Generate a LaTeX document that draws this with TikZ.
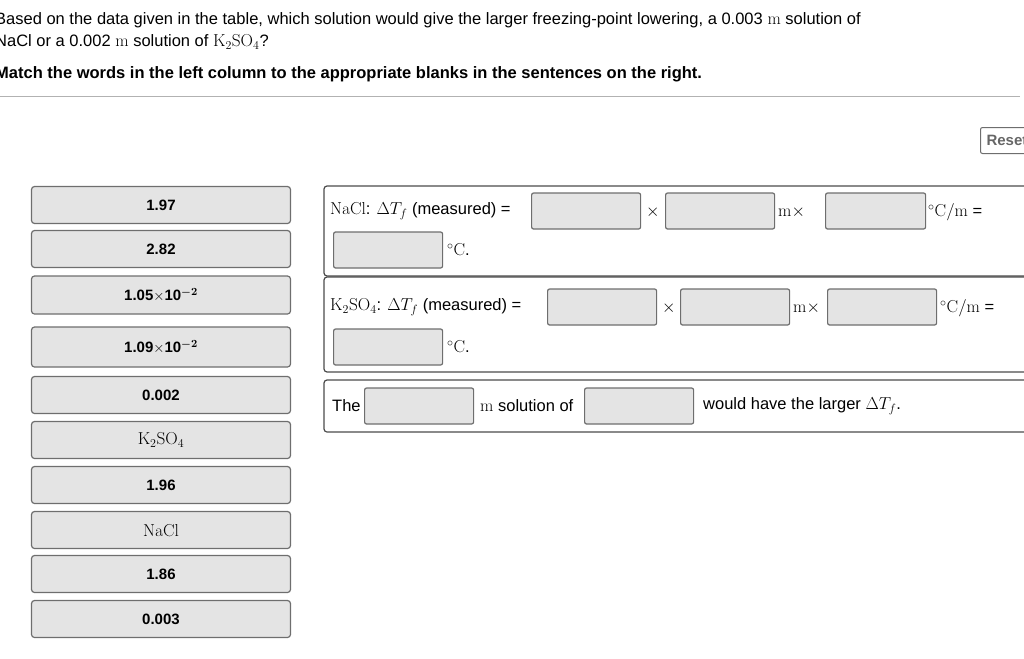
\documentclass[tikz,border=0pt]{standalone}
\usepackage[no-math]{fontspec}
\setmainfont{Liberation Sans}
\usepackage{amsmath}
\usetikzlibrary{positioning}
\definecolor{tilegray}{RGB}{228,228,228}
\definecolor{edgegray}{RGB}{110,110,110}
\tikzset{
  tile/.style={rectangle, rounded corners=3pt, draw=edgegray, line width=1.2pt, fill=tilegray, minimum width=259pt, minimum height=37pt, font=\fontsize{15}{17}\selectfont\bfseries},
  blank/.style={rectangle, rounded corners=2pt, draw=edgegray, line width=1.2pt, fill=tilegray, minimum width=109pt, minimum height=36pt, anchor=west},
  panel/.style={rounded corners=3pt, draw=black!70, line width=1.2pt},
  txt/.style={anchor=west, inner sep=0pt, font=\fontsize{16.5}{19}\selectfont}
}
\newcommand{\mm}{\mathrm{m}}
\begin{document}
\begin{tikzpicture}[x=1pt, y=-1pt]
\useasboundingbox (0,0) rectangle (1024,658);
\clip (0,0) rectangle (1024,658);

% question
\node (q1) [txt] at (-5,20) {Based on the data given in the table, which solution would give the larger freezing-point lowering, a 0.003 $\mm$ solution of};
\node (q2) [txt] at (-5,42) {NaCl or a 0.002 $\mm$ solution of $\mathrm{K_2SO_4}$?};
\node (q3) [txt, font=\fontsize{16.5}{19}\selectfont\bfseries] at (-5,74) {Match the words in the left column to the appropriate blanks in the sentences on the right.};
\draw [black!30, line width=1pt] (0,97) -- (1020,97);

% reset button
\draw (980,127) node (reset) [rectangle, rounded corners=2pt, draw=edgegray, line width=1pt, anchor=north west, minimum width=64pt, minimum height=26pt, font=\fontsize{15}{17}\selectfont\bfseries, text=black!60, align=left, text width=54pt, inner xsep=6pt, inner ysep=4pt] {Reset};

% word tiles
\node (t1)  [tile] at (161,205) {1.97};
\node (t2)  [tile] at (161,249) {2.82};
\node (t3)  [tile, minimum height=38pt] at (161,295) {1.05$\times$10$^{\boldsymbol{-}\mathbf{2}}$};
\node (t4)  [tile, minimum height=40pt] at (161,347) {1.09$\times$10$^{\boldsymbol{-}\mathbf{2}}$};
\node (t5)  [tile] at (161,395) {0.002};
\node (t6)  [tile, font=\fontsize{17}{19}\selectfont] at (161,440) {$\mathrm{K_2SO_4}$};
\node (t7)  [tile] at (161,485) {1.96};
\node (t8)  [tile, font=\fontsize{17}{19}\selectfont] at (161,530) {$\mathrm{NaCl}$};
\node (t9)  [tile] at (161,574) {1.86};
\node (t10) [tile] at (161,619) {0.003};

% sentence panels
\draw [panel] (324,186) rectangle (1040,276);
\draw [panel] (324,277) rectangle (1040,372);
\draw [panel] (324,380) rectangle (1040,432);

% NaCl row
\node (a0) [txt] at (330,211) {$\mathrm{NaCl}$: $\Delta T_f$ (measured) =};
\node (a1) [blank] at (531,211) {};
\node (ax) [txt] at (646,212) {$\times$};
\node (a2) [blank] at (665,211) {};
\node (am) [txt] at (778,212) {$\mm\times$};
\node (a3) [blank, minimum width=100pt] at (825,211) {};
\node (au) [txt] at (928,212) {$^\circ\mathrm{C}/\mm$ =};
\node (a4) [blank] at (333,250) {};
\node (ac) [txt] at (447,250) {$^\circ\mathrm{C}$.};

% K2SO4 row
\node (b0) [txt] at (330,307) {$\mathrm{K_2SO_4}$: $\Delta T_f$ (measured) =};
\node (b1) [blank] at (547,307) {};
\node (bx) [txt] at (662,308) {$\times$};
\node (b2) [blank] at (680,307) {};
\node (bm) [txt] at (793,308) {$\mm\times$};
\node (b3) [blank] at (827,307) {};
\node (bu) [txt] at (940,308) {$^\circ\mathrm{C}/\mm$ =};
\node (b4) [blank] at (333,347) {};
\node (bc) [txt] at (447,347) {$^\circ\mathrm{C}$.};

% conclusion row
\node (c0) [txt] at (332,406) {The};
\node (c1) [blank] at (364,406) {};
\node (cm) [txt] at (480,406) {$\mm$ solution of};
\node (c2) [blank] at (584,406) {};
\node (ce) [txt] at (703,406) {would have the larger $\Delta T_f$.};
\end{tikzpicture}
\end{document}
